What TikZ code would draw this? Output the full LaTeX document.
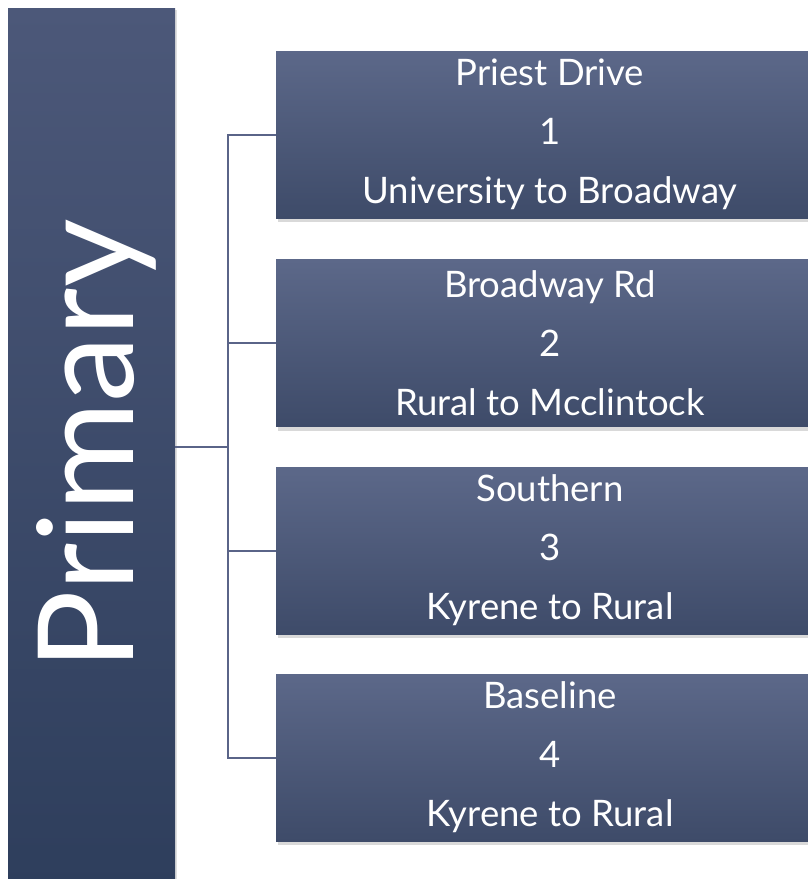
\documentclass[tikz,border=0pt]{standalone}
\usepackage{fontspec}
\setmainfont{Lato}
\usetikzlibrary{positioning,shadows}
\definecolor{lineblue}{HTML}{5A6488}
\definecolor{mainTop}{HTML}{4C5879}
\definecolor{mainBot}{HTML}{2E3E5C}
\definecolor{subTop}{HTML}{5C6889}
\definecolor{subBot}{HTML}{3E4B69}
\tikzset{
  mainbox/.style={draw=none, top color=mainTop, bottom color=mainBot,
    minimum width=167pt, minimum height=880pt,
    drop shadow={opacity=0.25, shadow xshift=2pt, shadow yshift=-2pt}},
  subbox/.style={draw=none, top color=subTop, bottom color=subBot,
    minimum width=548pt, minimum height=167pt, align=center, text=white,
    font=\fontsize{36.5}{59}\selectfont,
    drop shadow={opacity=0.3, shadow xshift=2pt, shadow yshift=-4pt}},
  link/.style={draw=lineblue, line width=2pt}
}
\begin{document}
\begin{tikzpicture}[x=1pt,y=-1pt]
        \useasboundingbox (0,0) rectangle (807,879);
        % Left column
        \node[mainbox] (prim) at (91.5,448) {};
        \node[text=white, rotate=90, font=\fontsize{133}{133}\selectfont] (primtxt) at (96,445) {Primary};
        % Right column
        \node[subbox] (r1) at (550,134.5) {Priest Drive\\1\\University to Broadway};
        \node[subbox] (r2) at (550,343) {Broadway Rd\\2\\Rural to Mcclintock};
        \node[subbox] (r3) at (550,550.5) {Southern\\3\\Kyrene to Rural};
        \node[subbox] (r4) at (550,757.5) {Baseline\\4\\Kyrene to Rural};
        % Connectors
        \coordinate (hub) at (228,447);
        \draw[link] (prim.east |- hub) -- (hub);
        \draw[link] (r1.west) -| (hub |- r1.west) -- (hub |- r4.west) -- (r4.west);
        \draw[link] (hub |- r2.west) -- (r2.west);
        \draw[link] (hub |- r3.west) -- (r3.west);
\end{tikzpicture}
\end{document}
